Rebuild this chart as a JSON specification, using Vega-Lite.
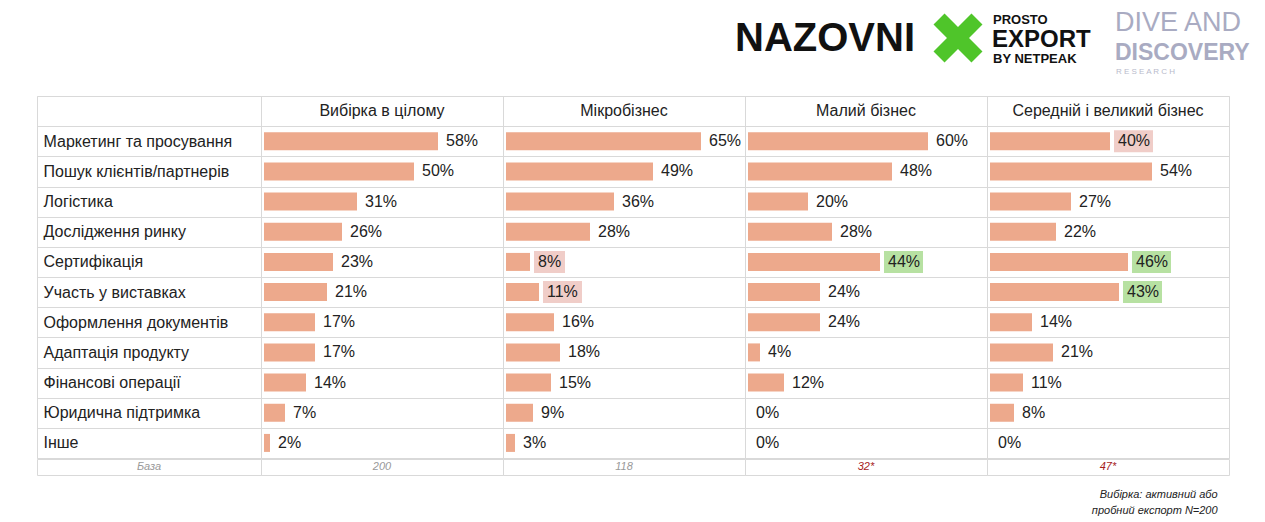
{
  "$schema": "https://vega.github.io/schema/vega-lite/v6.json",
  "background": "white",
  "padding": {"left": 36, "top": 0, "right": 0, "bottom": 0},
  "autosize": {"type": "pad"},
  "spacing": -2,
  "config": {
    "view": {"stroke": "#d9d9d9"},
    "font": "Liberation Sans",
    "concat": {"spacing": 0}
  },
  "title": {
    "text": ["Вибірка: активний або", "пробний експорт N=200"],
    "orient": "bottom",
    "anchor": "end",
    "align": "right",
    "fontSize": 11,
    "fontStyle": "italic",
    "fontWeight": "normal",
    "color": "#222",
    "font": "Liberation Sans",
    "lineHeight": 16,
    "offset": 13,
    "dx": -32
  },
  "datasets": {
    "rows": [
      {"item": "Маркетинг та просування", "group": "Вибірка в цілому", "value": 58, "pct": "58%", "sig": ""},
      {"item": "Маркетинг та просування", "group": "Мікробізнес", "value": 65, "pct": "65%", "sig": ""},
      {"item": "Маркетинг та просування", "group": "Малий бізнес", "value": 60, "pct": "60%", "sig": ""},
      {"item": "Маркетинг та просування", "group": "Середній і великий бізнес", "value": 40, "pct": "40%", "sig": "low"},
      {"item": "Пошук клієнтів/партнерів", "group": "Вибірка в цілому", "value": 50, "pct": "50%", "sig": ""},
      {"item": "Пошук клієнтів/партнерів", "group": "Мікробізнес", "value": 49, "pct": "49%", "sig": ""},
      {"item": "Пошук клієнтів/партнерів", "group": "Малий бізнес", "value": 48, "pct": "48%", "sig": ""},
      {"item": "Пошук клієнтів/партнерів", "group": "Середній і великий бізнес", "value": 54, "pct": "54%", "sig": ""},
      {"item": "Логістика", "group": "Вибірка в цілому", "value": 31, "pct": "31%", "sig": ""},
      {"item": "Логістика", "group": "Мікробізнес", "value": 36, "pct": "36%", "sig": ""},
      {"item": "Логістика", "group": "Малий бізнес", "value": 20, "pct": "20%", "sig": ""},
      {"item": "Логістика", "group": "Середній і великий бізнес", "value": 27, "pct": "27%", "sig": ""},
      {"item": "Дослідження ринку", "group": "Вибірка в цілому", "value": 26, "pct": "26%", "sig": ""},
      {"item": "Дослідження ринку", "group": "Мікробізнес", "value": 28, "pct": "28%", "sig": ""},
      {"item": "Дослідження ринку", "group": "Малий бізнес", "value": 28, "pct": "28%", "sig": ""},
      {"item": "Дослідження ринку", "group": "Середній і великий бізнес", "value": 22, "pct": "22%", "sig": ""},
      {"item": "Сертифікація", "group": "Вибірка в цілому", "value": 23, "pct": "23%", "sig": ""},
      {"item": "Сертифікація", "group": "Мікробізнес", "value": 8, "pct": "8%", "sig": "low"},
      {"item": "Сертифікація", "group": "Малий бізнес", "value": 44, "pct": "44%", "sig": "high"},
      {"item": "Сертифікація", "group": "Середній і великий бізнес", "value": 46, "pct": "46%", "sig": "high"},
      {"item": "Участь у виставках", "group": "Вибірка в цілому", "value": 21, "pct": "21%", "sig": ""},
      {"item": "Участь у виставках", "group": "Мікробізнес", "value": 11, "pct": "11%", "sig": "low"},
      {"item": "Участь у виставках", "group": "Малий бізнес", "value": 24, "pct": "24%", "sig": ""},
      {"item": "Участь у виставках", "group": "Середній і великий бізнес", "value": 43, "pct": "43%", "sig": "high"},
      {"item": "Оформлення документів", "group": "Вибірка в цілому", "value": 17, "pct": "17%", "sig": ""},
      {"item": "Оформлення документів", "group": "Мікробізнес", "value": 16, "pct": "16%", "sig": ""},
      {"item": "Оформлення документів", "group": "Малий бізнес", "value": 24, "pct": "24%", "sig": ""},
      {"item": "Оформлення документів", "group": "Середній і великий бізнес", "value": 14, "pct": "14%", "sig": ""},
      {"item": "Адаптація продукту", "group": "Вибірка в цілому", "value": 17, "pct": "17%", "sig": ""},
      {"item": "Адаптація продукту", "group": "Мікробізнес", "value": 18, "pct": "18%", "sig": ""},
      {"item": "Адаптація продукту", "group": "Малий бізнес", "value": 4, "pct": "4%", "sig": ""},
      {"item": "Адаптація продукту", "group": "Середній і великий бізнес", "value": 21, "pct": "21%", "sig": ""},
      {"item": "Фінансові операції", "group": "Вибірка в цілому", "value": 14, "pct": "14%", "sig": ""},
      {"item": "Фінансові операції", "group": "Мікробізнес", "value": 15, "pct": "15%", "sig": ""},
      {"item": "Фінансові операції", "group": "Малий бізнес", "value": 12, "pct": "12%", "sig": ""},
      {"item": "Фінансові операції", "group": "Середній і великий бізнес", "value": 11, "pct": "11%", "sig": ""},
      {"item": "Юридична підтримка", "group": "Вибірка в цілому", "value": 7, "pct": "7%", "sig": ""},
      {"item": "Юридична підтримка", "group": "Мікробізнес", "value": 9, "pct": "9%", "sig": ""},
      {"item": "Юридична підтримка", "group": "Малий бізнес", "value": 0, "pct": "0%", "sig": ""},
      {"item": "Юридична підтримка", "group": "Середній і великий бізнес", "value": 8, "pct": "8%", "sig": ""},
      {"item": "Інше", "group": "Вибірка в цілому", "value": 2, "pct": "2%", "sig": ""},
      {"item": "Інше", "group": "Мікробізнес", "value": 3, "pct": "3%", "sig": ""},
      {"item": "Інше", "group": "Малий бізнес", "value": 0, "pct": "0%", "sig": ""},
      {"item": "Інше", "group": "Середній і великий бізнес", "value": 0, "pct": "0%", "sig": ""}
    ]
  },
  "vconcat": [
    {
      "width": 1192,
      "height": 89,
      "view": {"stroke": null},
      "data": {"values": [{}]},
      "encoding": {
        "x": {"datum": 0, "scale": {"domain": [0, 1192], "nice": false, "zero": false}, "axis": null}
      },
      "layer": [
        {"mark": {"type": "text", "text": "NAZOVNI", "font": "Liberation Sans", "fontWeight": "bold", "fontSize": 40, "color": "#111", "align": "center", "baseline": "alphabetic"},
         "encoding": {"x": {"datum": 788}, "y": {"datum": 51, "scale": {"domain": [0, 89], "reverse": true, "nice": false, "zero": false}, "axis": null}}},
        {"mark": {"type": "point", "shape": "M0,-0.45L0.55,-1L1,-0.55L0.45,0L1,0.55L0.55,1L0,0.45L-0.55,1L-1,0.55L-0.45,0L-1,-0.55L-0.55,-1Z", "size": 2400, "filled": true, "color": "#4fc52a", "opacity": 1, "strokeWidth": 0},
         "encoding": {"x": {"datum": 921}, "y": {"datum": 38}}},
        {"mark": {"type": "text", "text": "PROSTO", "fontWeight": "bold", "fontSize": 13, "color": "#111", "align": "left", "baseline": "alphabetic"},
         "encoding": {"x": {"datum": 956}, "y": {"datum": 24}}},
        {"mark": {"type": "text", "text": "EXPORT", "fontWeight": "bold", "fontSize": 24, "color": "#111", "align": "left", "baseline": "alphabetic"},
         "encoding": {"x": {"datum": 955}, "y": {"datum": 47}}},
        {"mark": {"type": "text", "text": "BY NETPEAK", "fontWeight": "bold", "fontSize": 13, "color": "#111", "align": "left", "baseline": "alphabetic"},
         "encoding": {"x": {"datum": 956}, "y": {"datum": 63}}},
        {"mark": {"type": "text", "text": "DIVE AND", "font": "Liberation Sans", "fontSize": 27, "color": "#a9abc2", "align": "left", "baseline": "alphabetic"},
         "encoding": {"x": {"datum": 1078}, "y": {"datum": 31}}},
        {"mark": {"type": "text", "text": "DISCOVERY", "font": "Liberation Sans", "fontWeight": "bold", "fontSize": 23, "color": "#a9abc2", "align": "left", "baseline": "alphabetic"},
         "encoding": {"x": {"datum": 1078}, "y": {"datum": 60}}},
        {"mark": {"type": "text", "text": "R   E   S   E   A   R   C   H", "fontSize": 8, "color": "#b8bacb", "align": "left", "baseline": "alphabetic"},
         "encoding": {"x": {"datum": 1079}, "y": {"datum": 74}}}
      ]
    },
    {
      "spacing": 0,
      "bounds": "flush",
      "hconcat": [
        {
          "width": 224,
          "height": 362,
          "data": {"name": "rows"},
          "transform": [{"filter": "datum.group == 'Вибірка в цілому'"}],
          "mark": {"type": "text", "text": ""},
          "encoding": {
            "y": {"field": "item", "type": "nominal",
              "scale": {"domain": ["_h", "Маркетинг та просування", "Пошук клієнтів/партнерів", "Логістика", "Дослідження ринку", "Сертифікація", "Участь у виставках", "Оформлення документів", "Адаптація продукту", "Фінансові операції", "Юридична підтримка", "Інше"], "paddingInner": 0, "paddingOuter": 0},
              "axis": {"orient": "left", "domain": false, "ticks": false, "tickSize": 0, "labelPadding": -6, "labelAlign": "left", "labelBaseline": "middle", "labelFontSize": 16, "labelColor": "#222", "labelFont": "Liberation Sans", "labelLimit": 0, "title": null, "grid": true, "gridColor": "#d9d9d9", "tickBand": "extent", "labelExpr": "datum.value == '_h' ? '' : datum.value"}}
          }
        },
        {
          "width": 242,
          "height": 362,
          "data": {"name": "rows"},
          "transform": [{"filter": "datum.group == 'Вибірка в цілому'"}],
          "encoding": {
            "y": {"field": "item", "type": "nominal",
              "scale": {"domain": ["_h", "Маркетинг та просування", "Пошук клієнтів/партнерів", "Логістика", "Дослідження ринку", "Сертифікація", "Участь у виставках", "Оформлення документів", "Адаптація продукту", "Фінансові операції", "Юридична підтримка", "Інше"], "paddingInner": 0, "paddingOuter": 0},
              "axis": {"domain": false, "labels": false, "ticks": false, "tickSize": 0, "title": null, "grid": true, "gridColor": "#d9d9d9", "tickBand": "extent"}}
          },
          "layer": [
            {"mark": {"type": "bar", "size": 18, "color": "#eda98c"},
             "encoding": {"x": {"field": "value", "type": "quantitative", "stack": null, "scale": {"domain": [-1, 79.67], "nice": false, "zero": false}, "axis": null}}},
            {"mark": {"type": "text", "align": "left", "baseline": "middle", "dx": 8, "fontSize": 16, "color": "#222"},
             "encoding": {"x": {"field": "value", "type": "quantitative"}, "text": {"field": "pct"}}},
            {"data": {"values": [{"group": "Вибірка в цілому", "item": "_h"}]},
             "mark": {"type": "text", "align": "center", "baseline": "middle", "fontSize": 16, "color": "#222"},
             "encoding": {"x": {"datum": 39.33}, "text": {"field": "group"}}}
          ]
        },
        {
          "width": 242,
          "height": 362,
          "data": {"name": "rows"},
          "transform": [{"filter": "datum.group == 'Мікробізнес'"}],
          "encoding": {
            "y": {"field": "item", "type": "nominal",
              "scale": {"domain": ["_h", "Маркетинг та просування", "Пошук клієнтів/партнерів", "Логістика", "Дослідження ринку", "Сертифікація", "Участь у виставках", "Оформлення документів", "Адаптація продукту", "Фінансові операції", "Юридична підтримка", "Інше"], "paddingInner": 0, "paddingOuter": 0},
              "axis": {"domain": false, "labels": false, "ticks": false, "tickSize": 0, "title": null, "grid": true, "gridColor": "#d9d9d9", "tickBand": "extent"}}
          },
          "layer": [
            {"mark": {"type": "bar", "size": 18, "color": "#eda98c"},
             "encoding": {"x": {"field": "value", "type": "quantitative", "stack": null, "scale": {"domain": [-1, 79.67], "nice": false, "zero": false}, "axis": null}}},
            {"transform": [{"filter": "datum.sig != '' && datum.value >= 10"}],
             "mark": {"type": "bar", "size": 22, "xOffset": 4, "x2Offset": 43},
             "encoding": {"x": {"field": "value", "type": "quantitative"}, "x2": {"field": "value"},
               "color": {"field": "sig", "type": "nominal", "scale": {"domain": ["low", "high"], "range": ["#f0cdc8", "#b7e1a2"]}, "legend": null}}},
            {"transform": [{"filter": "datum.sig != '' && datum.value < 10"}],
             "mark": {"type": "bar", "size": 22, "xOffset": 4, "x2Offset": 35},
             "encoding": {"x": {"field": "value", "type": "quantitative"}, "x2": {"field": "value"},
               "color": {"field": "sig", "type": "nominal", "scale": {"domain": ["low", "high"], "range": ["#f0cdc8", "#b7e1a2"]}, "legend": null}}},
            {"mark": {"type": "text", "align": "left", "baseline": "middle", "dx": 8, "fontSize": 16, "color": "#222"},
             "encoding": {"x": {"field": "value", "type": "quantitative"}, "text": {"field": "pct"}}},
            {"data": {"values": [{"group": "Мікробізнес", "item": "_h"}]},
             "mark": {"type": "text", "align": "center", "baseline": "middle", "fontSize": 16, "color": "#222"},
             "encoding": {"x": {"datum": 39.33}, "text": {"field": "group"}}}
          ]
        },
        {
          "width": 242,
          "height": 362,
          "data": {"name": "rows"},
          "transform": [{"filter": "datum.group == 'Малий бізнес'"}],
          "encoding": {
            "y": {"field": "item", "type": "nominal",
              "scale": {"domain": ["_h", "Маркетинг та просування", "Пошук клієнтів/партнерів", "Логістика", "Дослідження ринку", "Сертифікація", "Участь у виставках", "Оформлення документів", "Адаптація продукту", "Фінансові операції", "Юридична підтримка", "Інше"], "paddingInner": 0, "paddingOuter": 0},
              "axis": {"domain": false, "labels": false, "ticks": false, "tickSize": 0, "title": null, "grid": true, "gridColor": "#d9d9d9", "tickBand": "extent"}}
          },
          "layer": [
            {"mark": {"type": "bar", "size": 18, "color": "#eda98c"},
             "encoding": {"x": {"field": "value", "type": "quantitative", "stack": null, "scale": {"domain": [-1, 79.67], "nice": false, "zero": false}, "axis": null}}},
            {"transform": [{"filter": "datum.sig != '' && datum.value >= 10"}],
             "mark": {"type": "bar", "size": 22, "xOffset": 4, "x2Offset": 43},
             "encoding": {"x": {"field": "value", "type": "quantitative"}, "x2": {"field": "value"},
               "color": {"field": "sig", "type": "nominal", "scale": {"domain": ["low", "high"], "range": ["#f0cdc8", "#b7e1a2"]}, "legend": null}}},
            {"mark": {"type": "text", "align": "left", "baseline": "middle", "dx": 8, "fontSize": 16, "color": "#222"},
             "encoding": {"x": {"field": "value", "type": "quantitative"}, "text": {"field": "pct"}}},
            {"data": {"values": [{"group": "Малий бізнес", "item": "_h"}]},
             "mark": {"type": "text", "align": "center", "baseline": "middle", "fontSize": 16, "color": "#222"},
             "encoding": {"x": {"datum": 39.33}, "text": {"field": "group"}}}
          ]
        },
        {
          "width": 242,
          "height": 362,
          "data": {"name": "rows"},
          "transform": [{"filter": "datum.group == 'Середній і великий бізнес'"}],
          "encoding": {
            "y": {"field": "item", "type": "nominal",
              "scale": {"domain": ["_h", "Маркетинг та просування", "Пошук клієнтів/партнерів", "Логістика", "Дослідження ринку", "Сертифікація", "Участь у виставках", "Оформлення документів", "Адаптація продукту", "Фінансові операції", "Юридична підтримка", "Інше"], "paddingInner": 0, "paddingOuter": 0},
              "axis": {"domain": false, "labels": false, "ticks": false, "tickSize": 0, "title": null, "grid": true, "gridColor": "#d9d9d9", "tickBand": "extent"}}
          },
          "layer": [
            {"mark": {"type": "bar", "size": 18, "color": "#eda98c"},
             "encoding": {"x": {"field": "value", "type": "quantitative", "stack": null, "scale": {"domain": [-1, 79.67], "nice": false, "zero": false}, "axis": null}}},
            {"transform": [{"filter": "datum.sig != '' && datum.value >= 10"}],
             "mark": {"type": "bar", "size": 22, "xOffset": 4, "x2Offset": 43},
             "encoding": {"x": {"field": "value", "type": "quantitative"}, "x2": {"field": "value"},
               "color": {"field": "sig", "type": "nominal", "scale": {"domain": ["low", "high"], "range": ["#f0cdc8", "#b7e1a2"]}, "legend": null}}},
            {"mark": {"type": "text", "align": "left", "baseline": "middle", "dx": 8, "fontSize": 16, "color": "#222"},
             "encoding": {"x": {"field": "value", "type": "quantitative"}, "text": {"field": "pct"}}},
            {"data": {"values": [{"group": "Середній і великий бізнес", "item": "_h"}]},
             "mark": {"type": "text", "align": "center", "baseline": "middle", "fontSize": 16, "color": "#222"},
             "encoding": {"x": {"datum": 39.33}, "text": {"field": "group"}}}
          ]
        }
      ]
    },
    {
      "spacing": 0,
      "bounds": "flush",
      "hconcat": [
        {"width": 224, "height": 16, "data": {"values": [{"t": "База"}]},
         "mark": {"type": "text", "fontStyle": "italic", "fontSize": 11, "color": "#999", "baseline": "middle"},
         "encoding": {"text": {"field": "t"}, "x": {"datum": 0.5, "scale": {"domain": [0, 1]}, "axis": null}, "y": {"datum": 0.5, "scale": {"domain": [0, 1]}, "axis": null}}},
        {"width": 242, "height": 16, "data": {"values": [{"t": "200"}]},
         "mark": {"type": "text", "fontStyle": "italic", "fontSize": 11, "color": "#999", "baseline": "middle"},
         "encoding": {"text": {"field": "t"}, "x": {"datum": 0.5, "scale": {"domain": [0, 1]}, "axis": null}, "y": {"datum": 0.5, "scale": {"domain": [0, 1]}, "axis": null}}},
        {"width": 242, "height": 16, "data": {"values": [{"t": "118"}]},
         "mark": {"type": "text", "fontStyle": "italic", "fontSize": 11, "color": "#999", "baseline": "middle"},
         "encoding": {"text": {"field": "t"}, "x": {"datum": 0.5, "scale": {"domain": [0, 1]}, "axis": null}, "y": {"datum": 0.5, "scale": {"domain": [0, 1]}, "axis": null}}},
        {"width": 242, "height": 16, "data": {"values": [{"t": "32*"}]},
         "mark": {"type": "text", "fontStyle": "italic", "fontSize": 11, "color": "#a61c1c", "baseline": "middle"},
         "encoding": {"text": {"field": "t"}, "x": {"datum": 0.5, "scale": {"domain": [0, 1]}, "axis": null}, "y": {"datum": 0.5, "scale": {"domain": [0, 1]}, "axis": null}}},
        {"width": 242, "height": 16, "data": {"values": [{"t": "47*"}]},
         "mark": {"type": "text", "fontStyle": "italic", "fontSize": 11, "color": "#a61c1c", "baseline": "middle"},
         "encoding": {"text": {"field": "t"}, "x": {"datum": 0.5, "scale": {"domain": [0, 1]}, "axis": null}, "y": {"datum": 0.5, "scale": {"domain": [0, 1]}, "axis": null}}}
      ]
    }
  ]
}
